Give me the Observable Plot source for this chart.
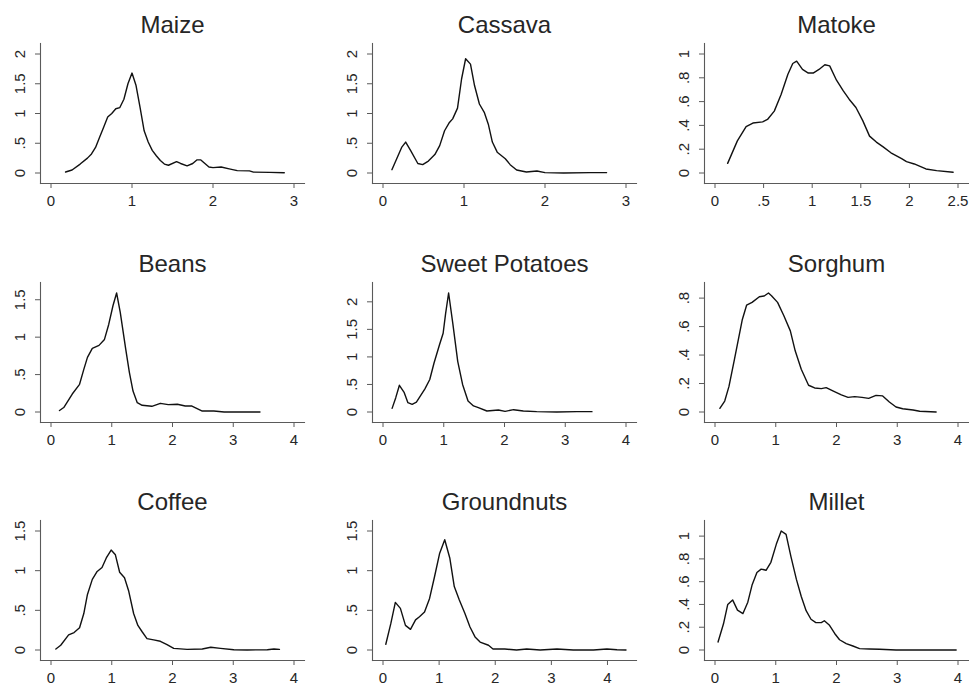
<!DOCTYPE html>
<html>
<head>
<meta charset="utf-8">
<script src="https://cdn.jsdelivr.net/npm/d3@7"></script>
<script src="https://cdn.jsdelivr.net/npm/@observablehq/plot@0.6"></script>
<style>
  html, body { margin: 0; padding: 0; background: #fff; overflow: hidden; }
  #chart { position: relative; width: 969px; height: 685px; }
  .panel { position: absolute; width: 332px; }
  .panel svg { overflow: visible; max-width: none !important; }
</style>
</head>
<body>
<div id="chart"></div>
<script>
// Panel titles (row by row)
const crops = ["Maize", "Cassava", "Matoke", "Beans", "Sweet Potatoes", "Sorghum", "Coffee", "Groundnuts", "Millet"];

// Kernel density curves: [x, density]
const maize = [[0.18,0.017],[0.26,0.05],[0.36,0.15],[0.45,0.25],[0.5,0.32],[0.55,0.43],[0.6,0.6],[0.65,0.77],[0.7,0.94],[0.75,1.0],[0.8,1.08],[0.85,1.1],[0.9,1.24],[0.95,1.5],[1.0,1.68],[1.05,1.47],[1.1,1.1],[1.15,0.71],[1.2,0.52],[1.25,0.38],[1.3,0.29],[1.35,0.21],[1.4,0.15],[1.45,0.13],[1.55,0.19],[1.6,0.16],[1.68,0.12],[1.75,0.16],[1.8,0.22],[1.85,0.22],[1.9,0.16],[1.95,0.1],[2.0,0.09],[2.1,0.1],[2.2,0.07],[2.3,0.04],[2.45,0.035],[2.5,0.015],[2.7,0.01],[2.88,0.005]];
const cassava = [[0.11,0.056],[0.23,0.43],[0.28,0.52],[0.34,0.38],[0.43,0.16],[0.49,0.14],[0.56,0.2],[0.64,0.31],[0.7,0.46],[0.76,0.71],[0.82,0.85],[0.86,0.91],[0.92,1.09],[0.97,1.58],[1.02,1.92],[1.08,1.83],[1.13,1.47],[1.19,1.16],[1.25,1.02],[1.3,0.82],[1.35,0.52],[1.41,0.35],[1.51,0.24],[1.57,0.14],[1.65,0.05],[1.77,0.017],[1.9,0.034],[2.0,0.006],[2.23,0.0],[2.56,0.006],[2.76,0.006]];
const matoke = [[0.13,0.081],[0.23,0.27],[0.32,0.39],[0.39,0.42],[0.49,0.43],[0.54,0.45],[0.61,0.52],[0.68,0.66],[0.75,0.83],[0.8,0.92],[0.84,0.94],[0.9,0.87],[0.96,0.84],[1.01,0.84],[1.07,0.87],[1.13,0.91],[1.18,0.9],[1.25,0.78],[1.32,0.69],[1.38,0.62],[1.45,0.55],[1.52,0.44],[1.59,0.31],[1.66,0.26],[1.73,0.22],[1.81,0.17],[1.92,0.12],[1.97,0.095],[2.05,0.076],[2.17,0.034],[2.28,0.02],[2.45,0.006]];
const beans = [[0.14,0.02],[0.21,0.06],[0.35,0.24],[0.47,0.37],[0.54,0.57],[0.6,0.73],[0.68,0.85],[0.79,0.89],[0.88,0.97],[0.95,1.17],[1.02,1.42],[1.08,1.59],[1.14,1.33],[1.23,0.84],[1.29,0.53],[1.35,0.28],[1.42,0.125],[1.5,0.09],[1.66,0.076],[1.8,0.116],[1.93,0.098],[2.08,0.103],[2.21,0.08],[2.32,0.08],[2.49,0.013],[2.68,0.013],[2.85,0.0],[3.44,0.0]];
const sweetPotatoes = [[0.15,0.066],[0.21,0.26],[0.27,0.485],[0.35,0.35],[0.41,0.17],[0.48,0.14],[0.55,0.18],[0.69,0.42],[0.77,0.59],[0.84,0.89],[0.93,1.22],[0.99,1.43],[1.03,1.78],[1.08,2.16],[1.15,1.6],[1.23,0.92],[1.31,0.5],[1.4,0.2],[1.49,0.11],[1.57,0.08],[1.71,0.018],[1.9,0.036],[2.01,0.012],[2.15,0.042],[2.31,0.018],[2.53,0.006],[2.86,0.0],[3.19,0.006],[3.44,0.006]];
const sorghum = [[0.08,0.026],[0.16,0.077],[0.23,0.18],[0.32,0.37],[0.45,0.65],[0.52,0.75],[0.61,0.77],[0.73,0.81],[0.81,0.815],[0.88,0.836],[0.93,0.817],[1.03,0.77],[1.13,0.68],[1.24,0.57],[1.32,0.43],[1.42,0.3],[1.54,0.188],[1.64,0.169],[1.75,0.164],[1.83,0.171],[1.94,0.148],[2.08,0.12],[2.19,0.103],[2.3,0.108],[2.42,0.103],[2.53,0.096],[2.65,0.117],[2.76,0.113],[2.87,0.07],[2.98,0.035],[3.09,0.023],[3.26,0.014],[3.37,0.005],[3.64,0.0]];
const coffee = [[0.08,0.013],[0.16,0.06],[0.29,0.19],[0.38,0.22],[0.47,0.28],[0.54,0.46],[0.6,0.7],[0.68,0.89],[0.76,0.99],[0.84,1.04],[0.91,1.16],[0.99,1.26],[1.06,1.2],[1.13,0.98],[1.21,0.91],[1.28,0.74],[1.36,0.46],[1.43,0.31],[1.5,0.23],[1.58,0.144],[1.69,0.127],[1.8,0.11],[1.91,0.068],[2.02,0.021],[2.24,0.008],[2.49,0.013],[2.63,0.034],[2.79,0.021],[3.01,0.004],[3.23,0.0],[3.56,0.004],[3.67,0.013],[3.76,0.008]];
const groundnuts = [[0.05,0.072],[0.14,0.335],[0.22,0.6],[0.31,0.525],[0.4,0.31],[0.49,0.26],[0.58,0.38],[0.65,0.42],[0.74,0.48],[0.83,0.65],[0.92,0.93],[1.01,1.22],[1.1,1.39],[1.19,1.16],[1.27,0.8],[1.36,0.63],[1.46,0.46],[1.55,0.29],[1.64,0.165],[1.73,0.1],[1.88,0.06],[1.96,0.013],[2.17,0.013],[2.38,0.0],[2.56,0.013],[2.8,0.0],[3.1,0.013],[3.39,0.0],[3.75,0.0],[3.99,0.013],[4.17,0.004],[4.33,0.0]];
const millet = [[0.05,0.07],[0.14,0.23],[0.21,0.4],[0.29,0.44],[0.37,0.35],[0.46,0.32],[0.54,0.42],[0.61,0.57],[0.69,0.68],[0.76,0.71],[0.84,0.7],[0.92,0.77],[1.01,0.93],[1.09,1.045],[1.17,1.015],[1.25,0.82],[1.34,0.62],[1.42,0.47],[1.5,0.345],[1.58,0.27],[1.66,0.24],[1.75,0.24],[1.8,0.257],[1.88,0.22],[1.97,0.145],[2.05,0.09],[2.16,0.056],[2.27,0.035],[2.38,0.012],[2.54,0.009],[2.71,0.006],[2.98,0.0],[3.97,0.0]];

const curves = [maize, cassava, matoke, beans, sweetPotatoes, sorghum, coffee, groundnuts, millet];

// Tick values per panel
const xTicks = [
  [0, 1, 2, 3], [0, 1, 2, 3], [0, 0.5, 1, 1.5, 2, 2.5],
  [0, 1, 2, 3, 4], [0, 1, 2, 3, 4], [0, 1, 2, 3, 4],
  [0, 1, 2, 3, 4], [0, 1, 2, 3, 4], [0, 1, 2, 3, 4]
];
const yTicks = [
  [0, 0.5, 1, 1.5, 2], [0, 0.5, 1, 1.5, 2], [0, 0.2, 0.4, 0.6, 0.8, 1],
  [0, 0.5, 1, 1.5], [0, 0.5, 1, 1.5, 2], [0, 0.2, 0.4, 0.6, 0.8],
  [0, 0.5, 1, 1.5], [0, 0.5, 1, 1.5], [0, 0.2, 0.4, 0.6, 0.8, 1]
];

// Stata-style tick labels: ".5" instead of "0.5"
const fmt = d => String(d).replace(/^0\./, ".");

const FONT = "'Liberation Sans', Arial, Helvetica, sans-serif";
const AXIS = "#5a5a5a";
const TEXT = "#262626";

const chart = document.getElementById("chart");
const colPitch = 332, rowPitch = 238.5;

crops.forEach((name, i) => {
  const col = i % 3, row = Math.floor(i / 3);
  const data = curves[i];
  const xt = xTicks[i], yt = yTicks[i];
  const xMax = Math.max(xt[xt.length - 1], d3.max(data, d => d[0]));
  const yMax = Math.max(yt[yt.length - 1], d3.max(data, d => d[1]));
  const xMin = Math.min(0, d3.min(data, d => d[0]));
  const yMin = Math.min(0, d3.min(data, d => d[1]));

  const plot = Plot.plot({
    width: 332,
    height: 208,
    marginLeft: 40,
    marginRight: 28,
    marginTop: 43,
    marginBottom: 25,
    inset: 10.5,
    style: { fontFamily: FONT, fontSize: "15px", color: TEXT, background: "transparent", overflow: "visible" },
    x: { domain: [xMin, xMax] },
    y: { domain: [yMin, yMax] },
    marks: [
      Plot.frame({ anchor: "left", stroke: AXIS, strokeWidth: 1.1 }),
      Plot.frame({ anchor: "bottom", stroke: AXIS, strokeWidth: 1.1 }),
      Plot.axisX(xt, {
        tickSize: 5, tickPadding: 7, tickFormat: fmt, fontSize: 15,
        stroke: AXIS, fill: TEXT, label: null
      }),
      Plot.axisY(yt, {
        tickSize: 5, tickPadding: 11, tickRotate: -90, tickFormat: fmt, fontSize: 15,
        stroke: AXIS, fill: TEXT, label: null
      }),
      Plot.line(data, { x: d => d[0], y: d => d[1], stroke: "#111", strokeWidth: 1.4, strokeLinejoin: "round" }),
      Plot.text([name], {
        text: d => d, frameAnchor: "top", dy: -11, lineAnchor: "bottom",
        fontSize: 24, fill: TEXT, fontFamily: FONT
      })
    ]
  });
  plot.style.maxWidth = "none";
  // make sure tick labels render at the intended size
  plot.querySelectorAll("text").forEach(t => {
    if (t.textContent !== name) {
      t.style.fontSize = "15px";
      t.style.fontFamily = FONT;
    }
  });

  const div = document.createElement("div");
  div.className = "panel";
  div.style.left = (col * colPitch) + "px";
  div.style.top = (row * rowPitch) + "px";
  div.appendChild(plot);
  chart.appendChild(div);
});
</script>
</body>
</html>
